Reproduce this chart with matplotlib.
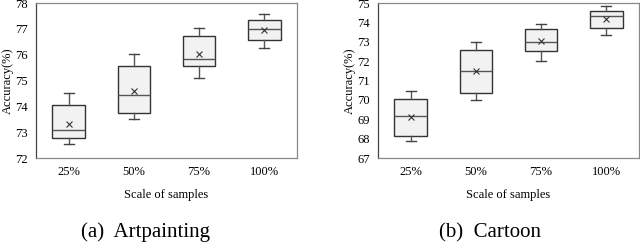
import matplotlib
matplotlib.use("Agg")
import matplotlib.pyplot as plt

plt.rcParams["font.family"] = ["Liberation Serif", "DejaVu Serif"]

scales = ["25%", "50%", "75%", "100%"]

# Artpainting
art_low = [72.54, 73.50, 75.09, 76.25]
art_q1 = [72.77, 73.73, 75.56, 76.56]
art_med = [73.08, 74.43, 75.83, 76.99]
art_q3 = [74.04, 75.57, 76.73, 77.34]
art_high = [74.50, 76.03, 77.03, 77.57]
art_mean = [73.32, 74.61, 76.03, 76.97]

# Cartoon
car_low = [67.86, 70.00, 72.00, 73.34]
car_q1 = [68.14, 70.34, 72.53, 73.71]
car_med = [69.19, 71.50, 72.98, 74.34]
car_q3 = [70.03, 72.59, 73.66, 74.59]
car_high = [70.47, 72.97, 73.91, 74.84]
car_mean = [69.10, 71.47, 73.02, 74.19]


def make_stats(low, q1, med, q3, high, mean):
    stats = []
    for i in range(len(scales)):
        stats.append({"whislo": low[i], "q1": q1[i], "med": med[i],
                      "q3": q3[i], "whishi": high[i], "mean": mean[i],
                      "fliers": []})
    return stats


def draw_panel(ax, stats, ylim):
    ax.bxp(stats, widths=0.5, capwidths=0.15, showmeans=True, patch_artist=True,
           boxprops=dict(facecolor="#f2f2f2", edgecolor="#333333", linewidth=1.0),
           whiskerprops=dict(color="#555555", linewidth=1.0),
           capprops=dict(color="#444444", linewidth=1.0),
           medianprops=dict(color="#555555", linewidth=1.0),
           meanprops=dict(marker="x", markeredgecolor="#333333", markersize=5,
                          markeredgewidth=0.8))
    ax.set_xticks(range(1, len(scales) + 1))
    ax.set_xticklabels(scales)
    ax.set_xlim(0.5, len(scales) + 0.5)
    ax.set_ylim(*ylim)
    ax.set_yticks(range(ylim[0], ylim[1] + 1))
    ax.tick_params(length=0, labelsize=9, pad=6)
    ax.set_xlabel("Scale of samples", fontsize=9, labelpad=8)
    ax.set_ylabel("Accuracy(%)", fontsize=9, labelpad=1)
    for s in ax.spines.values():
        s.set_color("#888888")
        s.set_linewidth(0.9)
    ax.spines["left"].set_color("#444444")


fig = plt.figure(figsize=(6.4, 2.46), dpi=100)
ax1 = fig.add_axes([0.05625, 0.3577, 0.4078, 0.630])
ax2 = fig.add_axes([0.5906, 0.3577, 0.4078, 0.630])

draw_panel(ax1, make_stats(art_low, art_q1, art_med, art_q3, art_high, art_mean), (72, 78))
draw_panel(ax2, make_stats(car_low, car_q1, car_med, car_q3, car_high, car_mean), (67, 75))

fig.text(0.228, 0.015, "(a)  Artpainting", fontsize=15, ha="center", va="bottom")
fig.text(0.766, 0.015, "(b)  Cartoon", fontsize=15, ha="center", va="bottom")

fig.savefig("out.png", dpi=100)
